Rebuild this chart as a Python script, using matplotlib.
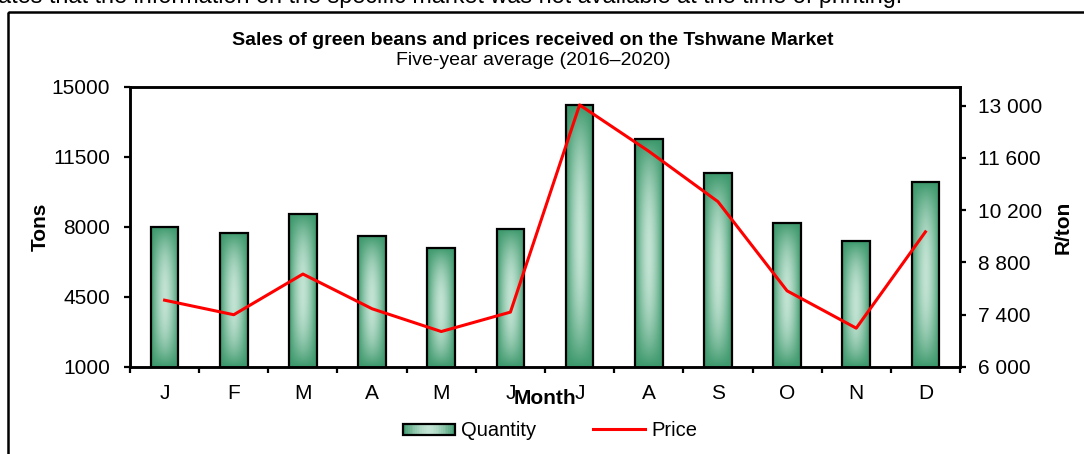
import numpy as np
import matplotlib
matplotlib.use("Agg")
import matplotlib.pyplot as plt
from matplotlib.patches import Rectangle
from matplotlib.lines import Line2D
from matplotlib.legend_handler import HandlerBase
from matplotlib.colors import to_rgb
from matplotlib.ticker import FuncFormatter, FixedLocator

plt.rcParams['font.family'] = ['Liberation Sans', 'DejaVu Sans']

months = ["J", "F", "M", "A", "M", "J", "J", "A", "S", "O", "N", "D"]
quantity = [8000, 7700, 8650, 7550, 6950, 7900, 14100, 12380, 10700, 8200, 7280, 10230]
price = [7790, 7400, 8490, 7560, 6950, 7470, 13020, 11780, 10430, 8040, 7040, 9620]
tons_ticks = [1000, 4500, 8000, 11500, 15000]
price_ticks = [6000, 7400, 8800, 10200, 11600, 13000]

title = "Sales of green beans and prices received on the Tshwane Market"
subtitle = "Five-year average (2016\u20132020)"
top_note = "ates that the information on the specific market was not available at the time of printing."

DARK = np.array(to_rgb("#3A976A"))
LIGHT = np.array(to_rgb("#C2E3D3"))

W, H = 1084, 454
fig = plt.figure(figsize=(W / 100, H / 100), dpi=100)

# outer frame
frame = Rectangle((8 / W, 1 - 12 / H), 1.2, -1.2, transform=fig.transFigure,
                  fill=False, edgecolor="black", linewidth=1.8, zorder=0)
fig.patches.append(frame)

fig.text(-2 / W, 1 - 3 / H, top_note, fontsize=16.8, va="baseline", ha="left")

ax = fig.add_axes([130 / W, 1 - 367 / H, (960 - 130) / W, (367 - 87) / H])
ax2 = ax.twinx()

x = np.arange(len(months))
bw = 0.4

# gradient image
ny, nx = 200, 60
gx = np.linspace(-1, 1, nx)
gy = np.linspace(-1, 1, ny)
GX, GY = np.meshgrid(gx, gy)
f = (1 - np.abs(GX) ** 1.6) * (1 - np.abs(GY) ** 2.2)
f = np.clip(f, 0, 1) ** 0.9
img = DARK[None, None, :] * (1 - f[..., None]) + LIGHT[None, None, :] * f[..., None]

bars = ax.bar(x, quantity, width=bw, bottom=0, facecolor="none",
              edgecolor="black", linewidth=1.6, zorder=3)
for b, q in zip(bars, quantity):
    x0 = b.get_x()
    im = ax.imshow(img, extent=[x0, x0 + bw, 1000, q], aspect="auto",
                   origin="lower", zorder=2, interpolation="bilinear")
    im.set_clip_path(b)

ax.set_xlim(-0.5, 11.5)
ax.set_ylim(1000, 15000)
ax.set_yticks(tons_ticks)
ax.set_xticks(x)
ax.set_xticklabels(months)
ax.xaxis.set_minor_locator(FixedLocator(np.arange(-0.5, 12, 1.0)))
ax.tick_params(axis="x", which="major", length=0, labelsize=15, pad=12.5)
ax.tick_params(axis="x", which="minor", length=4.5, width=1.6, direction="out")
ax.tick_params(axis="y", length=4.5, width=1.6, direction="out", labelsize=15, pad=10)
ax.set_ylabel("Tons", fontsize=15, fontweight="bold", labelpad=1)
ax.set_xlabel("Month", fontsize=15, fontweight="bold", labelpad=-10)

line, = ax2.plot(x, price, color="#FF0000", linewidth=2.2, zorder=5)
ax2.set_ylim(6000, 13500)
ax2.set_yticks(price_ticks)
ax2.yaxis.set_major_formatter(FuncFormatter(lambda v, p: f"{int(v):,}".replace(",", " ")))
ax2.tick_params(axis="y", length=4.5, width=1.6, direction="out", labelsize=15, pad=8.5)
ax2.set_ylabel("R/ton", fontsize=15, fontweight="bold", labelpad=8)

for a in (ax, ax2):
    for s in a.spines.values():
        s.set_linewidth(1.8)

fig.text(533 / W, 1 - 45 / H, title, fontsize=14, fontweight="bold", ha="center", va="baseline")
fig.text(533 / W, 1 - 65 / H, subtitle, fontsize=14, ha="center", va="baseline")


class GradHandler(HandlerBase):
    def create_artists(self, legend, orig_handle, xdescent, ydescent, width, height, fontsize, trans):
        arts = []
        n = 30
        ys = -ydescent + height * 0.1
        hh = height * 0.8
        for i in range(n):
            t = (i + 0.5) / n * 2 - 1
            fv = 1 - abs(t) ** 1.6
            c = DARK * (1 - fv) + LIGHT * fv
            r = Rectangle((-xdescent + width * i / n, ys), width / n + 0.3, hh,
                          facecolor=c, edgecolor="none", transform=trans)
            arts.append(r)
        border = Rectangle((-xdescent, ys), width, hh, facecolor="none",
                           edgecolor="black", linewidth=1.6, transform=trans)
        arts.append(border)
        return arts


qhandle = Rectangle((0, 0), 1, 1)
phandle = Line2D([0], [0], color="#FF0000", linewidth=2.2)
fig.legend([qhandle, phandle], ["Quantity", "Price"],
           handler_map={Rectangle: GradHandler()},
           loc="center", bbox_to_anchor=(550 / W, 1 - 431 / H), ncol=2,
           frameon=False, fontsize=14.5, handlelength=2.6, handletextpad=0.3,
           columnspacing=2.8)

fig.savefig("out.png", dpi=100)
